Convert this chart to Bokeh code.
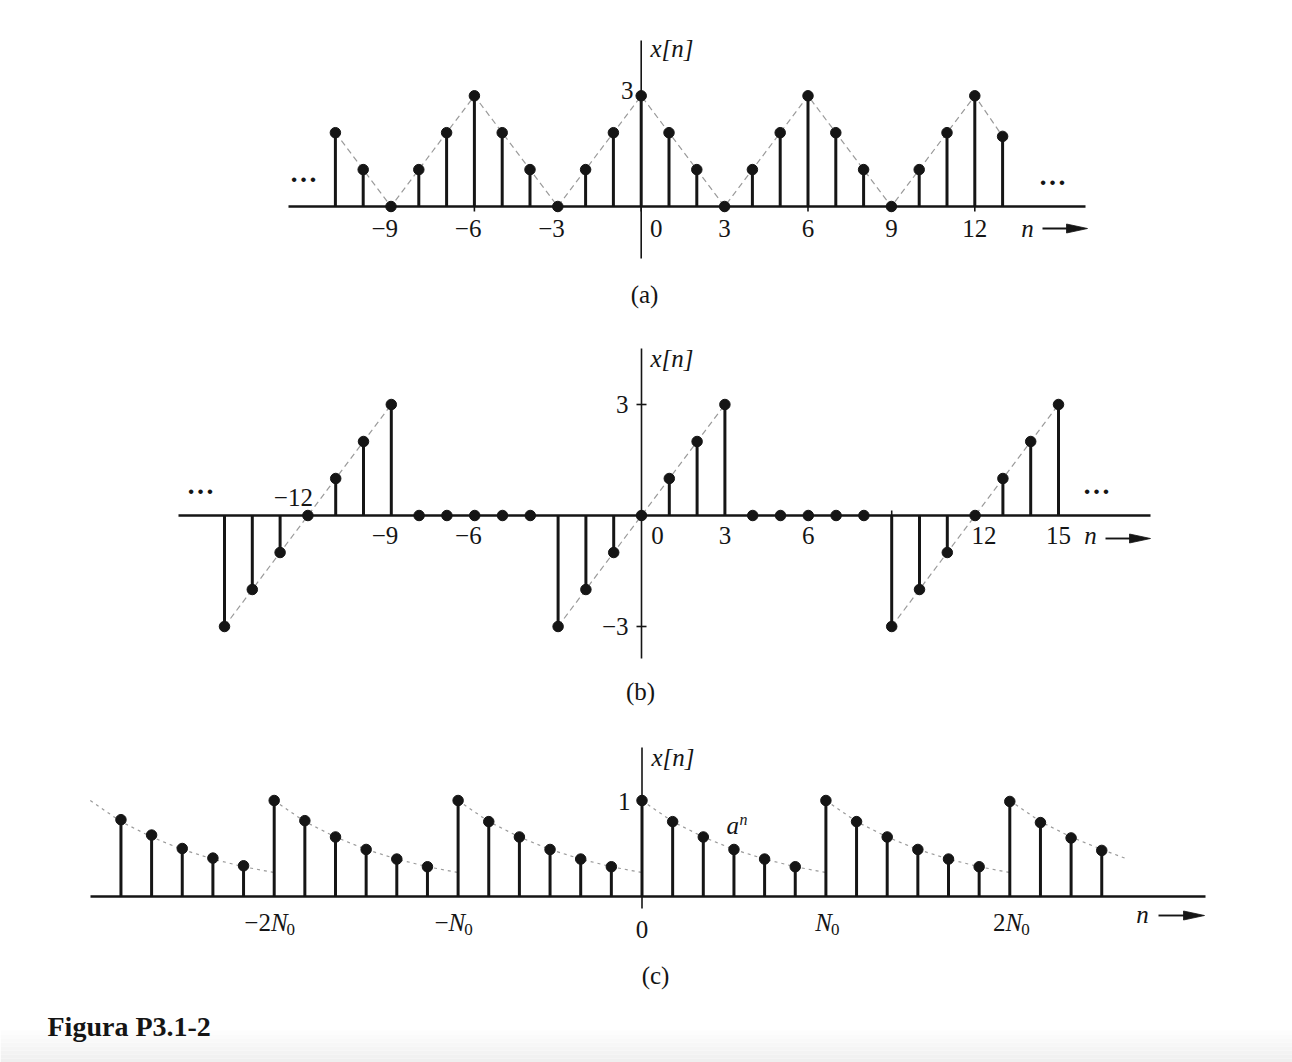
from bokeh.plotting import figure
from bokeh.models import Range1d
from bokeh.core.properties import value
from bokeh.embed import file_html
from bokeh.resources import INLINE

# ---------------- data ----------------
# (a) periodic triangular sequence
n_a = list(range(-11, 14))
x_a = [2, 1, 0, 1, 2, 3, 2, 1, 0, 1, 2, 3, 2, 1, 0, 1, 2, 3, 2, 1, 0, 1, 2, 3, 1.9]
ticks_a = [-9, -6, -3, 0, 3, 6, 9, 12]
ylabels_a = [3]

# (b) periodic ramp sequence
n_b = list(range(-15, 16))
x_b = [-3, -2, -1, 0, 1, 2, 3, 0, 0, 0, 0, 0,
       -3, -2, -1, 0, 1, 2, 3, 0, 0, 0, 0, 0,
       -3, -2, -1, 0, 1, 2, 3]
ramps_b = [(-15, -9), (-3, 3), (9, 15)]
ticks_b = [-12, -9, -6, 0, 3, 6, 12, 15]
ylabels_b = [3, -3]

# (c) periodic exponential a^n, period N0 = 6 samples
n_c = list(range(-17, 16))
x_c = [0.80, 0.64, 0.50, 0.40, 0.32,
       1.00, 0.79, 0.62, 0.49, 0.39, 0.31,
       1.00, 0.78, 0.62, 0.49, 0.39, 0.31,
       1.00, 0.78, 0.62, 0.49, 0.39, 0.31,
       1.00, 0.78, 0.62, 0.49, 0.39, 0.31,
       0.99, 0.77, 0.61, 0.48]
env_off = [0, 1, 2, 3, 4, 5, 6]
env_val = [1.00, 0.78, 0.62, 0.49, 0.39, 0.31, 0.25]
period_starts = [-18, -12, -6, 0, 6, 12]
env_tail = (3.75, 0.40)
ticks_c = [-12, -6, 0, 6, 12]
tick_labels_c = [("−2", "N", "0"), ("−", "N", "0"), ("0", "", ""), ("", "N", "0"), ("2", "N", "0")]
ylabels_c = [1]

# ---------------- geometry (pixels) ----------------
W, H = 1292, 1062
PANELS = {
    "a": dict(x0=640.7, sx=27.8, yb=206.0, sy=36.9),
    "b": dict(x0=641.0, sx=27.8, yb=515.0, sy=37.0),
    "c": dict(x0=641.5, sx=30.65, yb=896.0, sy=96.0),
}
INK = "#151515"
DASH = "#9a9a9a"
FONT = value("Liberation Serif")
FS = 25


def px(k, n):
    g = PANELS[k]
    return g["x0"] + g["sx"] * n


def py(k, v):
    g = PANELS[k]
    return g["yb"] - g["sy"] * v


p = figure(width=W, height=H, x_range=Range1d(0, W), y_range=Range1d(H, 0),
           x_axis_type=None, y_axis_type=None, output_backend="svg",
           toolbar_location=None, min_border=0)
p.outline_line_color = None
p.background_fill_color = "white"
p.border_fill_color = "white"

for k, g in PANELS.items():
    p.extra_x_ranges[k] = Range1d(-g["x0"] / g["sx"], (W - g["x0"]) / g["sx"])
    p.extra_y_ranges[k] = Range1d((g["yb"] - H) / g["sy"], g["yb"] / g["sy"])

# bottom grey fade of the page
for i in range(8):
    c = 253 - i * 2
    p.quad(left=0, right=W, top=1030 + i * 4, bottom=1034 + i * 4,
           fill_color=f"#{c:02x}{c:02x}{c:02x}", line_color=None)


def txt(x, y, s, size=FS, align="left", style="normal"):
    # y is the wanted alphabetic baseline; compensate renderer offset
    p.text(x=[x], y=[y - 0.33 * size], text=[s], text_font=FONT,
           text_font_size=f"{size}px", text_align=align,
           text_baseline="alphabetic", text_font_style=style, text_color=INK)


def hline(x0, x1, y, w=2.5):
    p.line([x0, x1], [y, y], line_width=w, line_color=INK)


def vline(x, y0, y1, w=1.6):
    p.line([x, x], [y0, y1], line_width=w, line_color=INK)


def arrow(x0, x1, y, head=21, half=4.5):
    p.line([x0, x1 - head + 2], [y, y], line_width=1.9, line_color=INK)
    p.patch([x1 - head, x1, x1 - head], [y - half, y, y + half],
            fill_color=INK, line_color=INK, line_width=0.8)


def stems(k, n, v):
    p.segment(x0=n, y0=[0] * len(n), x1=n, y1=v, line_width=3, line_color=INK,
              x_range_name=k, y_range_name=k)
    p.scatter(n, v, size=10.5, fill_color=INK, line_color=INK,
              x_range_name=k, y_range_name=k)


def minus(t):
    return f"−{abs(t)}" if t < 0 else str(t)


# ================= (a) =================
p.line(n_a, x_a, line_dash="6 4", line_color=DASH, line_width=1.2,
       x_range_name="a", y_range_name="a")
hline(288, 1085, py("a", 0))
vline(px("a", 0), 40, 258)
for t in ticks_a:
    vline(px("a", t), py("a", 0), py("a", 0) + 5, w=1.6)
stems("a", n_a, x_a)
for t in ticks_a:
    if t < 0:
        txt(px("a", t) + 7, 236, minus(t), align="right")
    elif t == 0:
        txt(px("a", t) + 15, 236, "0", align="center")
    else:
        txt(px("a", t), 236, str(t), align="center")
for v in ylabels_a:
    txt(633, py("a", v) + 3, str(v), align="right")
txt(650, 56, "x[n]", style="italic")
txt(303, 181, "…", size=28, align="center", style="bold")
txt(1052, 184, "…", size=28, align="center", style="bold")
txt(1027, 236, "n", style="italic", align="center")
arrow(1042, 1087, 228)
txt(644, 302, "(a)", align="center")

# ================= (b) =================
for s, e in ramps_b:
    ys = [x_b[n_b.index(s)], x_b[n_b.index(e)]]
    p.line([s, e], ys, line_dash="6 4", line_color=DASH, line_width=1.2,
           x_range_name="b", y_range_name="b")
hline(178, 1150, py("b", 0))
vline(px("b", 0), 348, 658)
for v in ylabels_b:
    hline(px("b", 0) - 5, px("b", 0) + 5, py("b", v), w=1.6)
vline(px("b", 9), py("b", 0) - 5, py("b", 0), w=1.6)
stems("b", n_b, x_b)
for t in ticks_b:
    if t == -12:
        txt(px("b", t) + 5, 505, minus(t), align="right")
    elif t < 0:
        txt(px("b", t) + 7, 543, minus(t), align="right")
    elif t == 0:
        txt(px("b", t) + 16, 543, "0", align="center")
    elif t == 12:
        txt(px("b", t) + 9, 543, str(t), align="center")
    else:
        txt(px("b", t), 543, str(t), align="center")
for v in ylabels_b:
    txt(628, py("b", v) + 8, minus(v), align="right")
txt(650, 366, "x[n]", style="italic")
txt(200, 493, "…", size=28, align="center", style="bold")
txt(1096, 493, "…", size=28, align="center", style="bold")
txt(1090, 543, "n", style="italic", align="center")
arrow(1105, 1150, 538)
txt(640, 699, "(b)", align="center")

# ================= (c) =================
for s in period_starts:
    cx = [s + o for o in env_off if s + o <= max(n_c)]
    cy = [v for o, v in zip(env_off, env_val) if s + o <= max(n_c)]
    if len(cx) < len(env_off):
        cx.append(s + env_tail[0])
        cy.append(env_tail[1])
    p.line(cx, cy, line_dash="3 4", line_color=DASH, line_width=1.2,
           x_range_name="c", y_range_name="c")
hline(90, 1205, py("c", 0))
vline(px("c", 0), 747, 908)
stems("c", n_c, x_c)


def sub_label(cx, yb, pre, main, sub, size=FS):
    w_pre = sum(0.564 if ch == "−" else 0.5 for ch in pre) * size
    w_main = 0.667 * size
    ssz = int(size * 0.7)
    w_sub = 0.5 * ssz
    x = cx - (w_pre + w_main + w_sub) / 2
    if pre:
        txt(x, yb, pre, size)
    x += w_pre
    txt(x, yb, main, size, style="italic")
    x += w_main
    p.text(x=[x - 1], y=[yb + 5 - 0.33 * ssz], text=[sub], text_font=FONT,
           text_font_size=f"{ssz}px", text_align="left",
           text_baseline="alphabetic", text_color=INK)


for t, (pre, main, sub) in zip(ticks_c, tick_labels_c):
    if main:
        sub_label(px("c", t) - 4 if t < 0 else px("c", t) + 2, 930, pre, main, sub)
    else:
        txt(px("c", t), 937, pre, align="center")
for v in ylabels_c:
    txt(630, py("c", v) + 9, str(v), align="right")
txt(651, 765, "x[n]", style="italic")
txt(726, 833, "a", size=25, style="italic")
p.text(x=[739], y=[824 - 0.33 * 16], text=["n"], text_font=FONT,
       text_font_size="16px", text_font_style="italic",
       text_baseline="alphabetic", text_color=INK)
txt(1142, 922, "n", style="italic", align="center")
arrow(1158, 1204, 915)
txt(655, 983, "(c)", align="center")

# caption
txt(47, 1035, "Figura P3.1-2", size=28, style="bold")

open("out.html", "w").write(file_html(p, INLINE))
